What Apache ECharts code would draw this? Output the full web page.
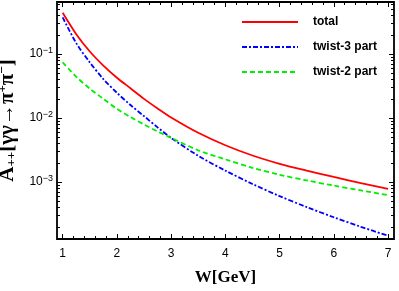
<!DOCTYPE html>
<html>
<head>
<meta charset="utf-8">
<script src="https://cdn.jsdelivr.net/npm/echarts@6/dist/echarts.min.js"></script>
<style>html,body{margin:0;padding:0;background:#fff}#c{width:399px;height:291px}</style>
</head>
<body>
<div id="c"></div>
<script>
const W = [1, 1.25, 1.5, 1.75, 2, 2.25, 2.5, 2.75, 3, 3.5, 4, 4.5, 5, 5.5, 6, 6.5, 7];
const total = [0.4406, 0.2042, 0.1096, 0.0661, 0.0427, 0.0292, 0.01995, 0.01413, 0.01023, 0.00589, 0.00376, 0.0026, 0.00193, 0.00151, 0.0012, 0.000966, 0.000785];
const twist3 = [0.374, 0.148, 0.0741, 0.0407, 0.0248, 0.0160, 0.0107, 0.00716, 0.0049, 0.00257, 0.00151, 0.000933, 0.000603, 0.000407, 0.000282, 0.0002, 0.000145];
const twist2 = [0.0741, 0.0442, 0.0288, 0.01995, 0.01396, 0.01035, 0.00794, 0.00617, 0.0049, 0.00313, 0.00226, 0.00167, 0.0013, 0.00106, 0.00088, 0.000741, 0.000624];
const seriesNames = ['total', 'twist-3 part', 'twist-2 part'];
const xMajor = [1, 2, 3, 4, 5, 6, 7];
const xMinor = [1.2, 1.4, 1.6, 1.8, 2.2, 2.4, 2.6, 2.8, 3.2, 3.4, 3.6, 3.8, 4.2, 4.4, 4.6, 4.8, 5.2, 5.4, 5.6, 5.8, 6.2, 6.4, 6.6, 6.8];
const yMajor = [0.001, 0.01, 0.1];
const yMinor = [2e-4, 3e-4, 4e-4, 5e-4, 6e-4, 7e-4, 8e-4, 9e-4, 2e-3, 3e-3, 4e-3, 5e-3, 6e-3, 7e-3, 8e-3, 9e-3, 0.02, 0.03, 0.04, 0.05, 0.06, 0.07, 0.08, 0.09, 0.2, 0.3, 0.4, 0.5, 0.6];

const chart = echarts.init(document.getElementById('c'));
const pair = (xs, ys) => xs.map((x, i) => [x, ys[i]]);
const XMIN = 0.895, XMAX = 7.11, YMIN = 1.29e-4, YMAX = 0.65;
function xAx(pos, ticks, len, labels) {
  return {
    type: 'value', position: pos, min: XMIN, max: XMAX, gridIndex: 0,
    axisLine: {show: false}, splitLine: {show: false},
    axisTick: {show: true, inside: true, length: len, customValues: ticks, lineStyle: {color: '#000', width: 1}},
    axisLabel: labels ? {show: true, customValues: xMajor, margin: 9, color: '#000', fontSize: 12, fontFamily: 'Liberation Sans'} : {show: false}
  };
}
function yAx(pos, ticks, len, labels) {
  return {
    type: 'log', logBase: 10, position: pos, min: YMIN, max: YMAX, gridIndex: 0,
    axisLine: {show: false}, splitLine: {show: false},
    axisTick: {show: true, inside: true, length: len, customValues: ticks, lineStyle: {color: '#000', width: 1}},
    axisLabel: labels ? {
      show: true, customValues: yMajor, margin: 4,
      formatter: v => '{b|10}{s|\u2212' + Math.abs(Math.round(Math.log10(v))) + '}',
      rich: {
        b: {fontSize: 12, color: '#000', fontFamily: 'Liberation Sans'},
        s: {fontSize: 9, color: '#000', fontFamily: 'Liberation Sans', padding: [0, 0, 7, 0]}
      }
    } : {show: false},
    name: labels ? '{a|A}{sub|++}{a|[γγ→π}{sup|+}{a|π}{sup|−}{a|]}' : '',
    nameLocation: 'middle', nameGap: 35, nameRotate: 90,
    nameTextStyle: {
      rich: {
        a: {fontSize: 21, fontWeight: 'bold', fontFamily: 'Liberation Serif', color: '#000'},
        sub: {fontSize: 13, fontWeight: 'bold', fontFamily: 'Liberation Serif', color: '#000', padding: [0, 0, -7, 0]},
        sup: {fontSize: 13, fontWeight: 'bold', fontFamily: 'Liberation Serif', color: '#000', padding: [0, 0, 10, 0]}
      }
    }
  };
}
const xAxes = [xAx('bottom', xMajor, 5, true), xAx('bottom', xMinor, 3, false), xAx('top', xMajor, 5, false), xAx('top', xMinor, 3, false)];
xAxes[0].name = 'W[GeV]';
xAxes[0].nameLocation = 'middle';
xAxes[0].nameGap = 30;
xAxes[0].nameTextStyle = {fontSize: 17, fontWeight: 'bold', fontFamily: 'Liberation Serif', color: '#000'};
const yAxes = [yAx('left', yMajor, 5, true), yAx('left', yMinor, 3, false), yAx('right', yMajor, 5, false), yAx('right', yMinor, 3, false)];

chart.setOption({
  animation: false,
  grid: {left: 57, right: 5, top: 2, bottom: 52, outerBoundsMode: 'none', containLabel: false, show: true, borderColor: '#000', borderWidth: 1.8, backgroundColor: 'transparent'},
  legend: {
    orient: 'vertical', left: 236, top: 11, itemWidth: 56, itemHeight: 14, itemGap: 13,
    data: seriesNames,
    itemStyle: {opacity: 0},
    textStyle: {fontSize: 12, fontWeight: 'bold', fontFamily: 'Liberation Sans', color: '#000', padding: [0, 0, 0, 10]}
  },
  xAxis: xAxes,
  yAxis: yAxes,
  series: [
    {name: seriesNames[0], type: 'line', smooth: 0.3, symbol: 'none', data: pair(W, total), lineStyle: {color: '#ff0000', width: 1.8, type: 'solid'}, itemStyle: {color: '#ff0000'}},
    {name: seriesNames[1], type: 'line', smooth: 0.3, symbol: 'none', data: pair(W, twist3), lineStyle: {color: '#0000ff', width: 1.8, type: [5, 2, 2, 2]}, itemStyle: {color: '#0000ff'}},
    {name: seriesNames[2], type: 'line', smooth: 0.3, symbol: 'none', data: pair(W, twist2), lineStyle: {color: '#00ee00', width: 1.8, type: [5, 3]}, itemStyle: {color: '#00ee00'}}
  ]
});
</script>
</body>
</html>
